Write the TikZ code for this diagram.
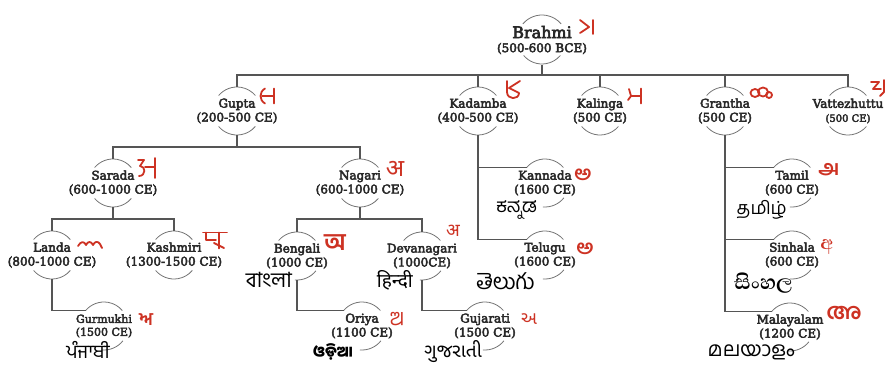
\documentclass[tikz,border=0pt]{standalone}
\usepackage{fontspec}
\setmainfont{DejaVu Serif}
\newfontfamily\labelfont{DejaVu Serif}[FakeBold=4]
\newfontfamily\devafont[Script=Devanagari]{Noto Sans}
\newfontfamily\bengfont[Script=Bengali]{Hind Siliguri}
\newfontfamily\gurufont[Script=Gurmukhi]{Hind Jalandhar}
\newfontfamily\gujrfont[Script=Gujarati]{Noto Sans Gujarati UI}
\newfontfamily\oryafont[Script=Oriya]{Noto Sans Oriya UI}
\newfontfamily\tamlfont[Script=Tamil]{Hind Madurai}
\newfontfamily\telufont[Script=Telugu]{Hind Guntur}
\newfontfamily\kndafont[Script=Kannada]{Hind Mysuru}
\newfontfamily\mlymfont[Script=Malayalam]{Hind Kochi}
\newfontfamily\sinhfont[Script=Sinhala]{Abhaya Libre}
\definecolor{linegray}{RGB}{85,85,85}
\definecolor{ringgray}{RGB}{115,115,115}
\definecolor{textgray}{RGB}{40,40,40}
\definecolor{scriptred}{RGB}{205,50,35}
\tikzset{
    label/.style={align=center, text=textgray, inner sep=0pt,
        font=\labelfont\fontsize{12}{14}\selectfont},
    ring/.style={draw=ringgray, line width=0.8pt},
    branch/.style={draw=linegray, line width=1.1pt},
    letter/.style={text=scriptred, inner sep=0pt},
    oldletter/.style={draw=scriptred, line width=1.8pt, line cap=round, line join=round},
    native/.style={text=black, inner sep=0pt, anchor=east}
}
\begin{document}
\begin{tikzpicture}[x=10pt, y=10pt]
            \useasboundingbox (0,0) rectangle (89.1,-37.1);

            \node[label, name=brahmi] at (54.2,-4.0)
                {{\fontsize{16}{18}\selectfont Brahmi}\\(500-600 BCE)};
            \node[label, name=gupta] at (23.7,-11.1) {Gupta\\(200-500 CE)};
            \node[label, name=kadamba] at (47.8,-11.1) {Kadamba\\(400-500 CE)};
            \node[label, name=kalinga] at (60.0,-11.1) {Kalinga\\(500 CE)};
            \node[label, name=grantha] at (72.5,-11.1) {Grantha\\(500 CE)};
            \node[label, name=vattezhuttu] at (84.8,-11.1)
                {Vattezhuttu\\{\fontsize{10}{12}\selectfont (500 CE)}};
            \node[label, name=sarada] at (11.3,-18.3) {Sarada\\(600-1000 CE)};
            \node[label, name=nagari] at (36.0,-18.3) {Nagari\\(600-1000 CE)};
            \node[label, name=kannada] at (54.5,-18.3) {Kannada\\(1600 CE)};
            \node[label, name=tamil] at (79.2,-18.3) {Tamil\\(600 CE)};
            \node[label, name=landa] at (5.2,-25.5) {Landa\\(800-1000 CE)};
            \node[label, name=kashmiri] at (17.4,-25.5) {Kashmiri\\(1300-1500 CE)};
            \node[label, name=bengali] at (29.7,-25.6) {Bengali\\(1000 CE)};
            \node[label, name=devanagari] at (42.2,-25.6) {Devanagari\\(1000CE)};
            \node[label, name=telugu] at (54.5,-25.5) {Telugu\\(1600 CE)};
            \node[label, name=sinhala] at (79.2,-25.5) {Sinhala\\(600 CE)};
            \node[label, font=\labelfont\fontsize{11}{13}\selectfont, name=gurmukhi] at (10.4,-32.6)
                {Gurmukhi\\(1500 CE)};
            \node[label, name=oriya] at (36.2,-32.6) {Oriya\\(1100 CE)};
            \node[label, name=gujarati] at (48.5,-32.6) {Gujarati\\(1500 CE)};
            \node[label, name=malayalam] at (79.0,-32.7) {Malayalam\\(1200 CE)};

            \foreach \n/\r in {brahmi/2.5,gupta/2.4,kadamba/2.4,kalinga/2.4,grantha/2.4,
                vattezhuttu/2.4,sarada/2.4,nagari/2.4,kannada/2.4,tamil/2.4,landa/2.4,
                kashmiri/2.4,bengali/2.4,devanagari/2.4,telugu/2.4,sinhala/2.4,
                gurmukhi/2.4,oriya/2.4,gujarati/2.4,malayalam/2.4} {
                \draw[ring] ([shift={(140:\r)}]\n.center) coordinate (\n-l)
                    arc[start angle=140, end angle=40, radius=\r];
                \coordinate (\n-t) at ([shift={(90:\r)}]\n.center);
                \coordinate (\n-b) at ([shift={(270:\r)}]\n.center);
            }
            \foreach \n in {brahmi,gupta,kadamba,kalinga,grantha,vattezhuttu,
                sarada,nagari,landa,kashmiri} {
                \draw[ring] ([shift={(220:2.4)}]\n.center)
                    arc[start angle=220, end angle=320, radius=2.4];
            }
            \foreach \n in {kannada,tamil,telugu,sinhala,bengali,devanagari,
                gurmukhi,oriya,gujarati,malayalam} {
                \draw[ring] ([shift={(265:2.4)}]\n.center)
                    arc[start angle=265, end angle=322, radius=2.4];
            }

            \coordinate (bus1) at ([yshift=-10pt]brahmi-b);
            \coordinate (bus2) at ([yshift=-12pt]gupta-b);
            \coordinate (bus3) at ([yshift=-12pt]sarada-b);
            \coordinate (bus4) at ([yshift=-12pt]nagari-b);

            \draw[branch] (brahmi-b) -- (bus1);
            \draw[branch] (gupta-t) |- (bus1) -| (vattezhuttu-t);
            \foreach \n in {kadamba,kalinga,grantha}
                \draw[branch] (\n-t) -- (\n-t |- bus1);

            \draw[branch] (gupta-b) -- (bus2);
            \draw[branch] (sarada-t) |- (bus2) -| (nagari-t);
            \draw[branch] (sarada-b) -- (bus3);
            \draw[branch] (landa-t) |- (bus3) -| (kashmiri-t);
            \draw[branch] (nagari-b) -- (bus4);
            \draw[branch] (bengali-t) |- (bus4) -| (devanagari-t);

            \draw[branch] (kadamba-b) |- (telugu-l);
            \draw[branch] (kadamba-b |- kannada-l) -- (kannada-l);
            \draw[branch] (grantha-b) |- (malayalam-l);
            \draw[branch] (grantha-b |- tamil-l) -- (tamil-l);
            \draw[branch] (grantha-b |- sinhala-l) -- (sinhala-l);
            \draw[branch] (landa-b) |- (gurmukhi-l);
            \draw[branch] (bengali-b) |- (oriya-l);
            \draw[branch] (devanagari-b) |- (gujarati-l);

            \node[native, font=\kndafont\fontsize{19}{19}\selectfont, name=kannada-w] at (53.7,-21.0) {ಕನ್ನಡ};
            \node[native, font=\telufont\fontsize{22}{22}\selectfont, name=telugu-w] at (53.5,-28.1) {తెలుగు};
            \node[native, font=\tamlfont\fontsize{18}{18}\selectfont, name=tamil-w] at (78.7,-21.0) {தமிழ்};
            \node[native, font=\sinhfont\bfseries\fontsize{26}{26}\selectfont, name=sinhala-w] at (79.3,-28.3) {සිංහල};
            \node[native, font=\mlymfont\fontsize{20}{20}\selectfont, name=malayalam-w] at (79.5,-35.2) {മലയാളം};
            \node[native, font=\bengfont\fontsize{21}{21}\selectfont, name=bengali-w] at (29.2,-28.0) {বাংলা};
            \node[native, font=\devafont\fontsize{19}{19}\selectfont, name=devanagari-w] at (41.3,-28.0) {हिन्दी};
            \node[native, font=\gurufont\fontsize{19}{19}\selectfont, name=gurmukhi-w] at (11.0,-35.0) {ਪੰਜਾਬੀ};
            \node[native, font=\oryafont\bfseries\fontsize{15}{15}\selectfont, name=oriya-w] at (35.3,-35.2) {ଓଡ଼ିଆ};
            \node[native, font=\gujrfont\fontsize{19}{19}\selectfont, name=gujarati-w] at (48.2,-35.2) {ગુજરાતી};

            \node[letter, font=\devafont\bfseries\fontsize{24}{24}\selectfont, name=nagari-a] at (39.5,-16.9) {अ};
            \node[letter, font=\devafont\fontsize{18}{18}\selectfont, name=devanagari-a] at (45.3,-23.1) {अ};
            \node[letter, font=\bengfont\bfseries\fontsize{24}{24}\selectfont, name=bengali-a] at (33.5,-24.3) {অ};
            \node[letter, font=\kndafont\bfseries\fontsize{20}{20}\selectfont, name=kannada-a] at (58.3,-17.5) {ಅ};
            \node[letter, font=\telufont\bfseries\fontsize{20}{20}\selectfont, name=telugu-a] at (58.5,-24.9) {అ};
            \node[letter, font=\tamlfont\bfseries\fontsize{21}{21}\selectfont, name=tamil-a] at (82.9,-17.0) {அ};
            \node[letter, font=\sinhfont\bfseries\fontsize{24}{24}\selectfont, name=sinhala-a] at (82.7,-24.7) {අ};
            \node[letter, font=\mlymfont\bfseries\fontsize{22}{22}\selectfont, name=malayalam-a] at (84.4,-31.3) {അ};
            \node[letter, font=\gurufont\bfseries\fontsize{18}{18}\selectfont, name=gurmukhi-a] at (14.6,-32.0) {ਅ};
            \node[letter, font=\oryafont\fontsize{20}{20}\selectfont, name=oriya-a] at (39.7,-32.0) {ଅ};
            \node[letter, font=\gujrfont\fontsize{18}{18}\selectfont, name=gujarati-a] at (52.9,-31.9) {અ};

            \begin{scope}[shift={(58.7,-2.7)}]
                \draw[oldletter] (-0.7,0.7) -- (0.2,0) -- (-0.7,-0.6);
                \draw[oldletter] (0.6,0.7) -- (0.6,-0.7);
            \end{scope}
            \begin{scope}[shift={(26.8,-9.6)}]
                \draw[oldletter] (-0.3,0.75) .. controls (-0.9,0.4) and (-0.9,-0.4) .. (-0.3,-0.75);
                \draw[oldletter] (0.6,0.75) -- (0.6,-0.75);
                \draw[oldletter] (-0.6,0) -- (0.6,0);
            \end{scope}
            \begin{scope}[shift={(51.3,-9.0)}]
                \draw[oldletter] (-0.6,0.9) -- (-0.6,-0.2) .. controls (-0.6,-1.0) and (0.6,-1.0) .. (0.6,-0.3) -- (-0.4,0.2) -- (0.7,0.9);
            \end{scope}
            \begin{scope}[shift={(63.5,-9.6)}]
                \draw[oldletter] (-0.6,0.7) -- (-0.4,0) -- (0.6,0);
                \draw[oldletter] (0.6,0.75) -- (0.6,-0.75);
                \draw[oldletter] (-0.4,0) -- (-0.7,-0.4);
            \end{scope}
            \begin{scope}[shift={(76.1,-9.3)}]
                \draw[oldletter] (-0.6,0) ellipse[x radius=0.45, y radius=0.4];
                \draw[oldletter] (0.2,0.1) ellipse[x radius=0.5, y radius=0.45];
                \draw[oldletter] (0.8,-0.2) ellipse[x radius=0.3, y radius=0.3];
            \end{scope}
            \begin{scope}[shift={(87.8,-8.8)}]
                \draw[oldletter] (-0.7,0.6) -- (0.1,0.6) -- (-0.5,-0.1) -- (0.3,-0.1);
                \draw[oldletter] (0.6,0.8) -- (0.6,-0.4) -- (0.2,-0.8);
            \end{scope}
            \begin{scope}[shift={(14.7,-16.8)}]
                \draw[oldletter] (-0.9,0.8) -- (-0.3,0.8) -- (-0.7,0.2) .. controls (-0.1,0.2) and (-0.1,-0.8) .. (-0.8,-0.8);
                \draw[oldletter] (0.8,1.0) -- (0.8,-1.0);
                \draw[oldletter] (-0.2,0.1) -- (0.8,0.1);
            \end{scope}
            \begin{scope}[shift={(9.0,-24.5)}]
                \draw[oldletter] (-1.2,-0.1) .. controls (-0.9,0.4) and (-0.6,0.4) .. (-0.4,0)
                    .. controls (-0.2,0.4) and (0.1,0.4) .. (0.3,0)
                    .. controls (0.5,0.4) and (0.8,0.4) .. (1.0,0.1) -- (1.2,-0.3);
            \end{scope}
            \begin{scope}[shift={(21.5,-24.0)}]
                \draw[oldletter] (-1.2,0.75) -- (1.2,0.75);
                \draw[oldletter] (-0.9,0.75) -- (-0.9,0) -- (0.1,0);
                \draw[oldletter] (0.4,0.75) -- (0.4,-0.85);
                \draw[oldletter] (-0.1,-0.3) -- (0.9,-0.8);
            \end{scope}
\end{tikzpicture}
\end{document}
